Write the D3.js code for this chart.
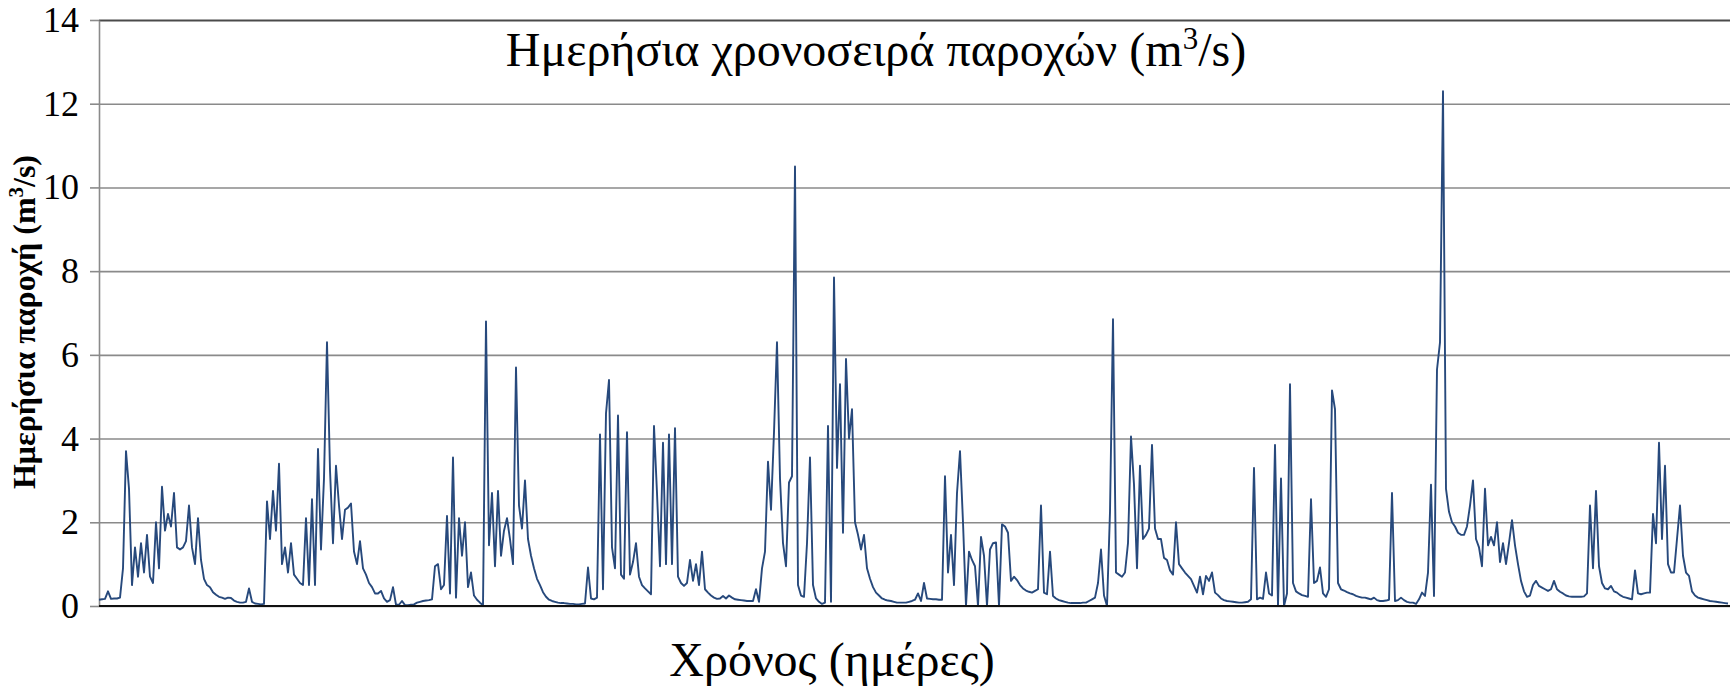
<!DOCTYPE html>
<html>
<head>
<meta charset="utf-8">
<script src="https://cdn.jsdelivr.net/npm/d3@7"></script>
<style>
  html, body { margin: 0; padding: 0; background: #fff; }
  svg { display: block; }
  text { font-family: "Liberation Serif", "Times New Roman", serif; fill: #000; }
</style>
</head>
<body>
<script>
// Daily discharge series (m3/s), one value per time step, left to right
const flow = [
  // first hydrological year
  0.15,0.16,0.17,0.35,0.17,0.18,0.18,0.2,0.9,3.7,
  2.8,0.5,1.4,0.7,1.5,0.8,1.7,0.7,0.55,2.0,
  0.9,2.85,1.8,2.2,1.9,2.7,1.4,1.35,1.4,1.55,
  2.4,1.4,1.0,2.1,1.1,0.65,0.5,0.45,0.33,0.27,
  0.22,0.2,0.17,0.2,0.19,0.13,0.1,0.08,0.08,0.1,
  0.42,0.1,0.06,0.05,0.04,0.05,2.5,1.6,2.75,1.8,
  3.4,1.0,1.4,0.8,1.5,0.75,0.65,0.55,0.5,
  // second
  2.1,0.5,2.55,0.5,3.75,1.35,3.05,6.3,3.25,1.5,
  3.35,2.4,1.6,2.3,2.35,2.45,1.3,1.0,1.55,0.9,
  0.75,0.55,0.45,0.3,0.3,0.36,0.18,0.1,0.14,0.45,
  0.03,0.03,0.12,0.02,0.02,0.03,0.04,0.08,0.1,0.12,
  0.13,0.14,0.16,0.95,1.0,0.4,0.5,2.15,0.3,3.55,
  0.2,2.1,1.2,2.0,0.45,0.8,0.25,0.15,0.08,0.02,
  6.8,1.45,2.7,0.95,2.75,1.2,1.8,2.1,1.6,
  // third
  1.0,5.7,2.4,1.85,3.0,1.6,1.2,0.9,0.65,0.5,
  0.33,0.22,0.15,0.12,0.1,0.08,0.07,0.07,0.06,0.05,
  0.05,0.04,0.04,0.05,0.06,0.92,0.18,0.16,0.2,4.1,
  0.4,4.6,5.4,1.4,0.9,4.55,0.75,0.65,4.15,0.75,
  1.05,1.5,0.7,0.5,0.42,0.35,0.28,4.3,2.7,0.95,
  3.9,1.0,4.1,1.0,4.25,0.7,0.55,0.48,0.55,1.1,
  0.6,1.0,0.5,1.3,0.4,0.32,0.25,0.2,
  // fourth
  0.17,0.18,0.24,0.18,0.25,0.2,0.16,0.15,0.14,0.13,
  0.12,0.12,0.12,0.4,0.1,0.9,1.3,3.45,2.3,4.15,
  6.3,3.05,1.5,0.95,2.95,3.1,10.5,0.5,0.25,0.22,
  1.5,3.55,0.5,0.18,0.1,0.05,0.08,4.3,0.1,7.85,
  3.3,5.3,1.75,5.9,4.0,4.7,2.0,1.7,1.35,1.7,
  0.9,0.65,0.45,0.32,0.25,0.18,0.15,0.13,0.12,0.1,
  0.08,0.08,0.08,0.08,0.1,0.12,0.15,0.3,
  // fifth
  0.12,0.55,0.18,0.17,0.16,0.16,0.15,0.15,3.1,0.8,
  1.7,0.5,2.7,3.7,2.0,0.0,1.3,1.1,0.95,0.0,
  1.65,1.2,0.0,1.35,1.5,1.52,0.0,1.95,1.9,1.75,
  0.6,0.7,0.62,0.5,0.42,0.37,0.34,0.32,0.36,0.4,
  2.4,0.32,0.28,1.3,0.24,0.18,0.14,0.12,0.1,0.08,
  0.07,0.07,0.07,0.07,0.08,0.08,0.12,0.16,0.2,0.55,
  1.35,0.25,0.0,2.25,6.85,0.8,0.75,0.7,
  // sixth
  0.8,1.5,4.05,2.9,0.9,3.35,1.6,1.7,1.85,3.85,
  1.85,1.6,1.6,1.15,1.1,0.85,0.75,2.0,1.0,0.9,
  0.8,0.72,0.64,0.48,0.32,0.7,0.28,0.72,0.6,0.8,
  0.32,0.26,0.18,0.14,0.12,0.11,0.1,0.09,0.08,0.08,
  0.09,0.1,0.16,3.3,0.16,0.2,0.17,0.8,0.3,0.25,
  3.85,0.02,3.05,0.0,0.3,5.3,0.55,0.35,0.3,0.26,
  0.24,0.22,2.55,0.55,0.6,0.92,0.3,0.22,
  // seventh
  0.4,5.15,4.7,0.55,0.4,0.37,0.33,0.3,0.28,0.24,
  0.22,0.2,0.2,0.18,0.16,0.2,0.14,0.12,0.12,0.13,
  0.15,2.7,0.12,0.14,0.2,0.14,0.1,0.08,0.08,0.05,
  0.16,0.32,0.24,0.8,2.9,0.24,5.65,6.3,12.3,2.8,
  2.25,2.0,1.9,1.75,1.7,1.7,1.9,2.4,3.0,1.6,
  1.4,0.95,2.8,1.45,1.65,1.45,2.0,1.05,1.5,1.0,
  1.5,2.05,1.45,1.0,0.6,0.35,0.22,0.25,0.5,
  // eighth
  0.6,0.48,0.44,0.4,0.36,0.4,0.6,0.4,0.34,0.3,
  0.25,0.23,0.22,0.22,0.22,0.22,0.23,0.3,2.4,0.9,
  2.75,0.95,0.55,0.42,0.4,0.48,0.35,0.32,0.26,0.22,
  0.2,0.18,0.16,0.85,0.3,0.28,0.3,0.32,0.32,2.2,
  1.5,3.9,1.6,3.35,1.0,0.8,0.8,1.6,2.4,1.2,
  0.8,0.72,0.35,0.25,0.2,0.18,0.16,0.14,0.12,0.11,
  0.1,0.09,0.08,0.07,0.06
];

const yTicks = [0, 2, 4, 6, 8, 10, 12, 14];
const yDomain = [0, 14];

const titleText = ["Ημερήσια χρονοσειρά παροχών (m", "3", "/s)"];
const yTitleText = ["Ημερήσια παροχή (m", "3", "/s)"];
const xTitleText = "Χρόνος (ημέρες)";

const W = 1730, H = 691;
const plot = { left: 99, top: 20, right: W - 2, bottom: 606 };

const svg = d3.select("body").append("svg")
  .attr("width", W).attr("height", H);

const x = d3.scaleLinear().domain([0, flow.length - 1]).range([plot.left, plot.right]);
const y = d3.scaleLinear().domain(yDomain).range([plot.bottom, plot.top]);

// horizontal gridlines
const grid = svg.append("g")
  .attr("transform", `translate(${plot.left},0)`)
  .call(d3.axisLeft(y).tickValues(yTicks).tickSize(-(W - plot.left)).tickFormat(""));
grid.select(".domain").remove();
grid.selectAll(".tick line")
  .attr("stroke", d => d === 14 ? "#4a4a4a" : "#8a8a8a")
  .attr("stroke-width", d => d === 14 ? 2.2 : 1.6);

// left axis with outward ticks and labels
const yAxis = svg.append("g")
  .attr("transform", `translate(${plot.left},0)`)
  .call(d3.axisLeft(y).tickValues(yTicks).tickSizeInner(9).tickSizeOuter(0).tickPadding(11));
yAxis.select(".domain").attr("stroke", "#8a8a8a").attr("stroke-width", 1.6);
yAxis.selectAll(".tick line").attr("stroke", "#8a8a8a").attr("stroke-width", 1.6);
yAxis.selectAll(".tick text")
  .style("font-family", "'Liberation Serif', 'Times New Roman', serif")
  .style("font-size", "36px")
  .attr("fill", "#222");

// discharge line
const line = d3.line()
  .x((d, i) => x(i))
  .y(d => y(d));

svg.append("path")
  .datum(flow)
  .attr("fill", "none")
  .attr("stroke", "#27497c")
  .attr("stroke-width", 1.9)
  .attr("stroke-linejoin", "round")
  .attr("d", line);

// zero baseline
svg.append("line")
  .attr("x1", plot.left).attr("x2", W)
  .attr("y1", y(0)).attr("y2", y(0))
  .attr("stroke", "#111").attr("stroke-width", 2.2);

// chart title
const title = svg.append("text")
  .attr("x", 876).attr("y", 66)
  .attr("text-anchor", "middle")
  .style("font-size", "48px");
title.append("tspan").text(titleText[0]);
title.append("tspan").attr("dy", -17).style("font-size", "31px").text(titleText[1]);
title.append("tspan").attr("dy", 17).text(titleText[2]);

// y-axis title
const yTitle = svg.append("text")
  .attr("transform", `translate(35,322) rotate(-90)`)
  .attr("text-anchor", "middle")
  .style("font-size", "32px")
  .style("font-weight", "bold");
yTitle.append("tspan").text(yTitleText[0]);
yTitle.append("tspan").attr("dy", -12).style("font-size", "21px").text(yTitleText[1]);
yTitle.append("tspan").attr("dy", 12).text(yTitleText[2]);

// x-axis title
svg.append("text")
  .attr("x", 832).attr("y", 676)
  .attr("text-anchor", "middle")
  .style("font-size", "48px")
  .text(xTitleText);
</script>
</body>
</html>
